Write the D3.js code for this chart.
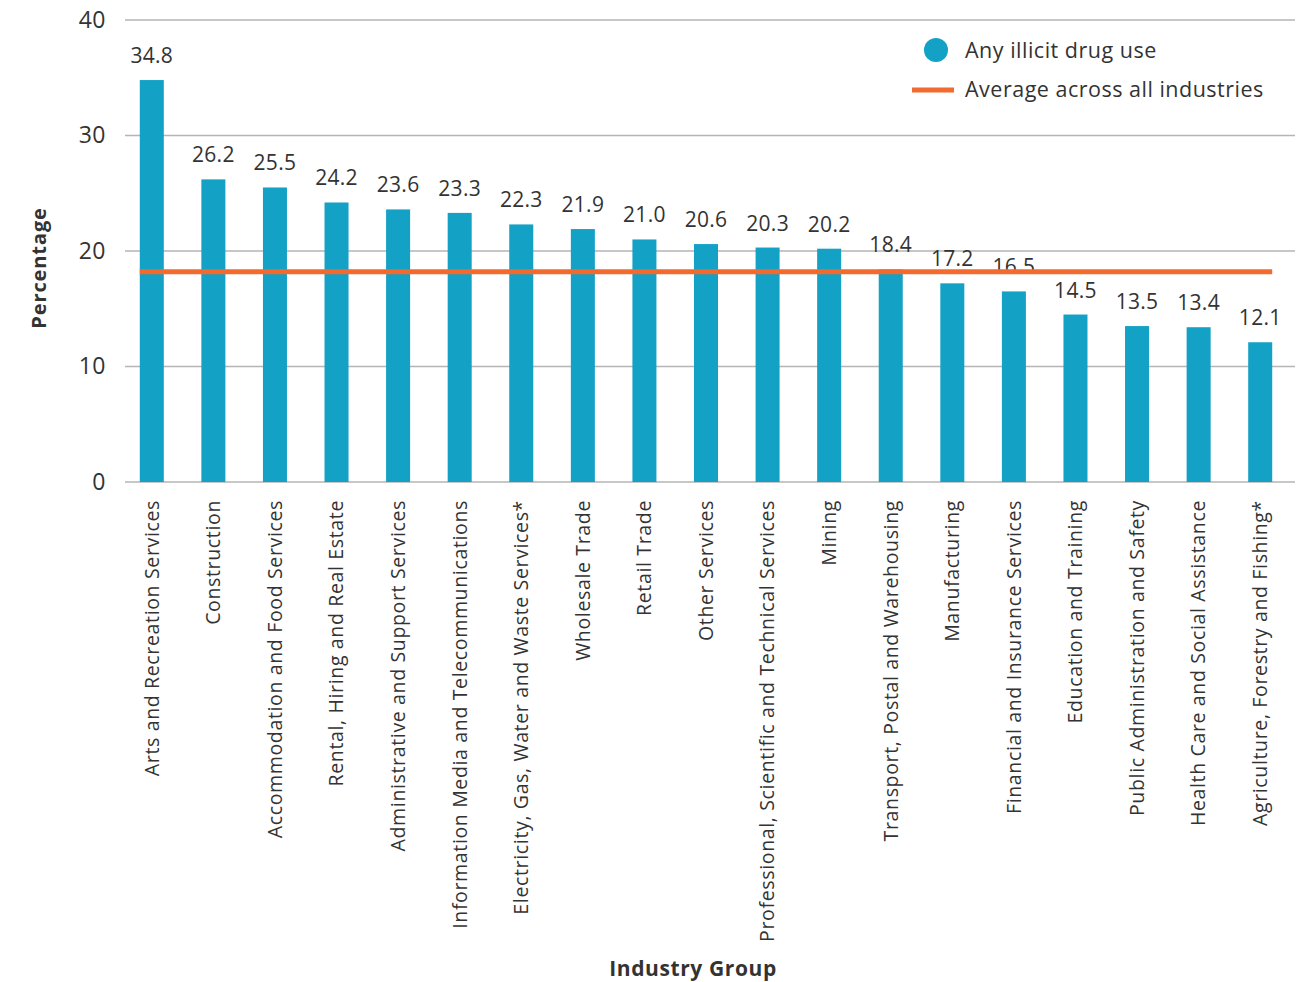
<!DOCTYPE html>
<html>
<head>
<meta charset="utf-8">
<script src="https://cdn.jsdelivr.net/npm/d3@7"></script>
<style>
  body { margin: 0; background: #fff; }
  text { font-family: "Open Sans", Lato, sans-serif; fill: #333; }
</style>
</head>
<body>
<div id="canvas"></div>
<script>
const industries = [
  "Arts and Recreation Services",
  "Construction",
  "Accommodation and Food Services",
  "Rental, Hiring and Real Estate",
  "Administrative and Support Services",
  "Information Media and Telecommunications",
  "Electricity, Gas, Water and Waste Services*",
  "Wholesale Trade",
  "Retail Trade",
  "Other Services",
  "Professional, Scientific and Technical Services",
  "Mining",
  "Transport, Postal and Warehousing",
  "Manufacturing",
  "Financial and Insurance Services",
  "Education and Training",
  "Public Administration and Safety",
  "Health Care and Social Assistance",
  "Agriculture, Forestry and Fishing*"
];
const drugUse = [34.8, 26.2, 25.5, 24.2, 23.6, 23.3, 22.3, 21.9, 21.0, 20.6, 20.3, 20.2, 18.4, 17.2, 16.5, 14.5, 13.5, 13.4, 12.1];
const average = 18.2;
const yTicks = [0, 10, 20, 30, 40];

const data = industries.map((name, i) => ({ name: name, value: drugUse[i] }));

const width = 1306;
const height = 982;
const margin = { top: 20, left: 125, bottom: 500, right: 11 };
const iheight = 482 - margin.top;
const font = "'Open Sans', sans-serif";

const svg = d3.select("#canvas").append("svg")
  .attr("width", width)
  .attr("height", height);

const g = svg.append("g").attr("transform", `translate(0,${margin.top})`);

const x = d3.scaleBand()
  .domain(industries)
  .range([121, 1291])
  .paddingInner(0.61)
  .paddingOuter(0.305);

const y = d3.scaleLinear()
  .domain([0, 40])
  .range([iheight, 0]);

// gridlines
g.selectAll(".grid")
  .data(yTicks)
  .enter().append("line")
  .attr("class", "grid")
  .attr("x1", margin.left)
  .attr("x2", width - margin.right)
  .attr("y1", d => y(d))
  .attr("y2", d => y(d))
  .attr("stroke", "#b5b5b5")
  .attr("stroke-width", 1.5);

// y tick labels
const yAxis = g.append("g")
  .attr("transform", `translate(${margin.left - 19},0)`)
  .call(d3.axisLeft(y).tickValues(yTicks).tickSize(0).tickPadding(0));
yAxis.select(".domain").remove();
yAxis.selectAll("text")
  .style("font-family", font)
  .style("font-size", "23px")
  .style("letter-spacing", "0.5px")
  .attr("fill", "#333");

// bars
g.selectAll(".bar")
  .data(data)
  .enter().append("rect")
  .attr("class", "bar")
  .attr("fill", "#13a1c5")
  .attr("x", d => x(d.name))
  .attr("y", d => y(d.value))
  .attr("width", x.bandwidth())
  .attr("height", d => y(0) - y(d.value));

// value labels
g.selectAll(".val")
  .data(data)
  .enter().append("text")
  .attr("class", "val")
  .attr("text-anchor", "middle")
  .attr("x", d => x(d.name) + x.bandwidth() / 2)
  .attr("y", d => y(d.value) - 17)
  .style("font-size", "21px")
  .style("letter-spacing", "0.3px")
  .text(d => d.value.toFixed(1));

// average line
g.append("line")
  .attr("x1", x(industries[0]))
  .attr("x2", x(industries[industries.length - 1]) + x.bandwidth())
  .attr("y1", y(average))
  .attr("y2", y(average))
  .attr("stroke", "#f26a2e")
  .attr("stroke-width", 5);

// x axis labels
const xAxis = g.append("g")
  .attr("transform", `translate(0,${iheight})`)
  .call(d3.axisBottom(x).tickSize(0).tickPadding(0));
xAxis.select(".domain").remove();
xAxis.selectAll("text")
  .style("font-family", font)
  .style("font-size", "19.5px")
  .style("letter-spacing", "0.65px")
  .attr("fill", "#333")
  .attr("text-anchor", "end")
  .attr("dy", "0.35em")
  .attr("transform", "translate(0,18) rotate(-90)")
  .attr("x", 0)
  .attr("y", 0);

// axis titles
svg.append("text")
  .attr("text-anchor", "middle")
  .attr("transform", "translate(46,268) rotate(-90)")
  .style("font-size", "20px")
  .style("font-weight", "bold")
  .style("letter-spacing", "0.9px")
  .text("Percentage");

svg.append("text")
  .attr("text-anchor", "middle")
  .attr("x", 693)
  .attr("y", 976)
  .style("font-size", "21px")
  .style("font-weight", "bold")
  .style("letter-spacing", "0.6px")
  .text("Industry Group");

// legend
const legend = svg.append("g");
legend.append("circle")
  .attr("cx", 936)
  .attr("cy", 50)
  .attr("r", 12)
  .attr("fill", "#13a1c5");
legend.append("text")
  .attr("x", 965)
  .attr("y", 58)
  .style("font-size", "21.5px")
  .style("letter-spacing", "0.5px")
  .text("Any illicit drug use");
legend.append("line")
  .attr("x1", 912)
  .attr("x2", 954)
  .attr("y1", 90)
  .attr("y2", 90)
  .attr("stroke", "#f26a2e")
  .attr("stroke-width", 5);
legend.append("text")
  .attr("x", 965)
  .attr("y", 97)
  .style("font-size", "21.5px")
  .style("letter-spacing", "0.5px")
  .text("Average across all industries");
</script>
</body>
</html>
